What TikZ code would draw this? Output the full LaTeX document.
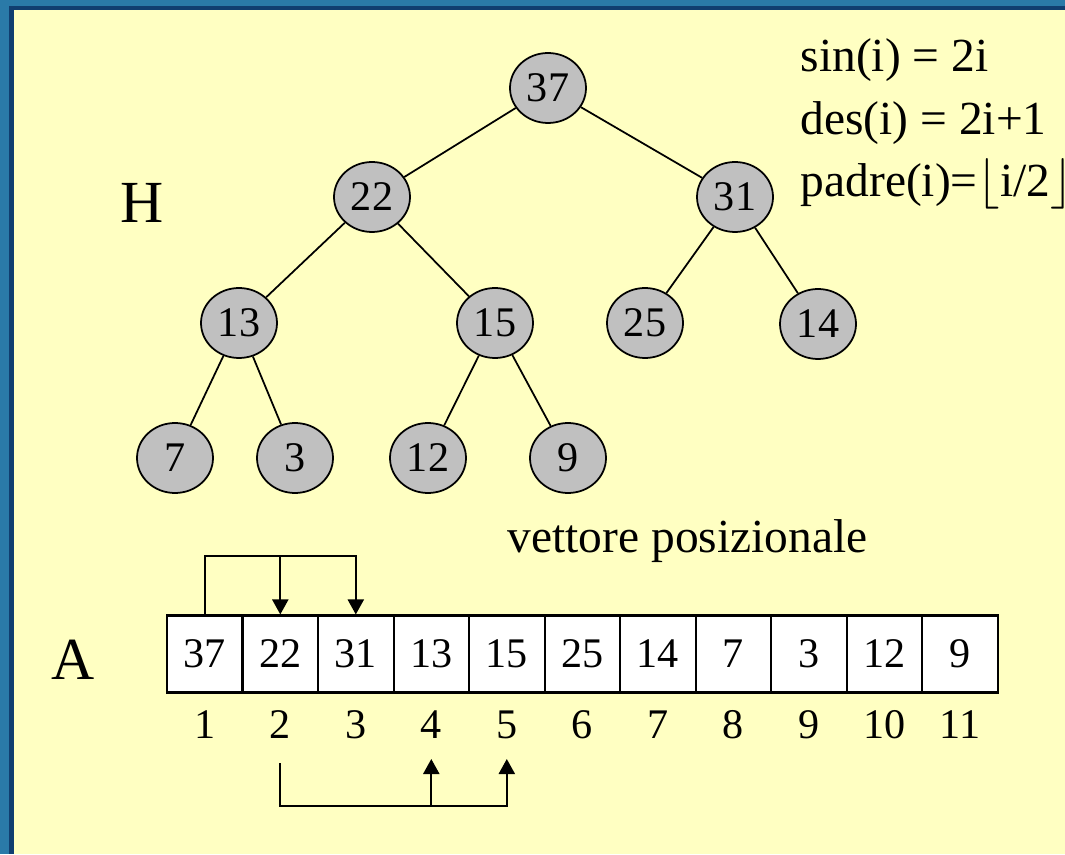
\documentclass[tikz,border=0pt]{standalone}
\usepackage{fontspec}
\setmainfont{Liberation Serif}
\usetikzlibrary{calc,arrows.meta,shapes.geometric}
\definecolor{blufondo}{RGB}{42,122,168}
\definecolor{blubordo}{RGB}{16,62,112}
\definecolor{giallino}{RGB}{255,255,194}
\definecolor{grigio}{RGB}{192,192,192}
\tikzset{
	nodo/.style={ellipse, draw, fill=grigio, minimum width=0.76cm, minimum height=0.70cm, inner sep=0pt, line width=0.5pt},
	cella/.style={draw, fill=white, minimum width=0.755cm, minimum height=0.77cm, inner sep=0pt, line width=0.6pt},
	freccia/.style={-{Triangle[width=1.6mm,length=1.5mm]}, line width=0.6pt},
	ramo/.style={line width=0.5pt},
	testo/.style={anchor=base west, inner sep=0pt, font=\fontsize{13.5}{16}\selectfont}
}

\begin{document}
\begin{tikzpicture}[font=\fontsize{12}{14}\selectfont]
				\useasboundingbox (0,0) rectangle (10.65,8.54);
				\clip (0,0) rectangle (10.65,8.54);
				
				% cornice
				\fill[blufondo] (0,0) rectangle (10.65,8.54);
				\fill[blubordo] (0.09,0) rectangle (10.65,8.48);
				\fill[giallino] (0.14,0) rectangle (10.65,8.44);
				
				% heap H
				\node at (1.42,6.31) [anchor=base, font=\fontsize{17}{20}\selectfont] (H) {H};
				
				\node[nodo] (n37) at (5.48,7.66) {37};
				\node[nodo] (n22) at (3.72,6.57) {22};
				\node[nodo] (n31) at (7.35,6.57) {31};
				\node[nodo] (n13) at (2.39,5.31) {13};
				\node[nodo] (n15) at (4.95,5.31) {15};
				\node[nodo] (n25) at (6.45,5.31) {25};
				\node[nodo] (n14) at (8.18,5.30) {14};
				\node[nodo] (n7) at (1.75,3.96) {7};
				\node[nodo] (n3) at (2.95,3.96) {3};
				\node[nodo] (n12) at (4.28,3.96) {12};
				\node[nodo] (n9) at (5.68,3.96) {9};
				
				\draw[ramo] (n37) -- (n22);
				\draw[ramo] (n37) -- (n31);
				\draw[ramo] (n22) -- (n13);
				\draw[ramo] (n22) -- (n15);
				\draw[ramo] (n31) -- (n25);
				\draw[ramo] (n31) -- (n14);
				\draw[ramo] (n13) -- (n7);
				\draw[ramo] (n13) -- (n3);
				\draw[ramo] (n15) -- (n12);
				\draw[ramo] (n15) -- (n9);
				
				% formule
				\node[testo] (sin) at (8.0,7.82) {sin(i) = 2i};
				\node[testo] (des) at (8.0,7.19) {des(i) = 2i+1};
				\node[testo] (padre) at (8.0,6.57) {padre(i)=$\lfloor$i/2$\rfloor$};
				
				% vettore A
				\node[testo] (titolo) at (5.07,3.02) {vettore posizionale};
				\node at (0.73,1.74) [anchor=base, font=\fontsize{17}{20}\selectfont] (A) {A};
				
				\node[cella] (a1) at (2.048,2.0) {37};
				\node[cella] (a2) at (2.803,2.0) {22};
				\node[cella] (a3) at (3.558,2.0) {31};
				\node[cella] (a4) at (4.313,2.0) {13};
				\node[cella] (a5) at (5.068,2.0) {15};
				\node[cella] (a6) at (5.823,2.0) {25};
				\node[cella] (a7) at (6.578,2.0) {14};
				\node[cella] (a8) at (7.333,2.0) {7};
				\node[cella] (a9) at (8.088,2.0) {3};
				\node[cella] (a10) at (8.843,2.0) {12};
				\node[cella] (a11) at (9.598,2.0) {9};
				
				\node (i1) at (2.048,1.29) {1};
				\node (i2) at (2.803,1.29) {2};
				\node (i3) at (3.558,1.29) {3};
				\node (i4) at (4.313,1.29) {4};
				\node (i5) at (5.068,1.29) {5};
				\node (i6) at (5.823,1.29) {6};
				\node (i7) at (6.578,1.29) {7};
				\node (i8) at (7.333,1.29) {8};
				\node (i9) at (8.088,1.29) {9};
				\node (i10) at (8.843,1.29) {10};
				\node (i11) at (9.598,1.29) {11};
				
				% figli di 1 e di 2
				\coordinate (su) at ($(a1.north)+(0,0.58)$);
				\draw[freccia] (a1.north) |- (a3.north |- su) -- (a3.north);
				\draw[freccia] (a2.north |- su) -- (a2.north);
				
				\coordinate (giu) at (0,0.48);
				\coordinate (parte) at (0,0.91);
				\coordinate (punta) at (0,0.95);
				\draw[freccia] (i2 |- parte) |- (i5 |- giu) -- (i5 |- punta);
				\draw[freccia] (i4 |- giu) -- (i4 |- punta);
\end{tikzpicture}
\end{document}
